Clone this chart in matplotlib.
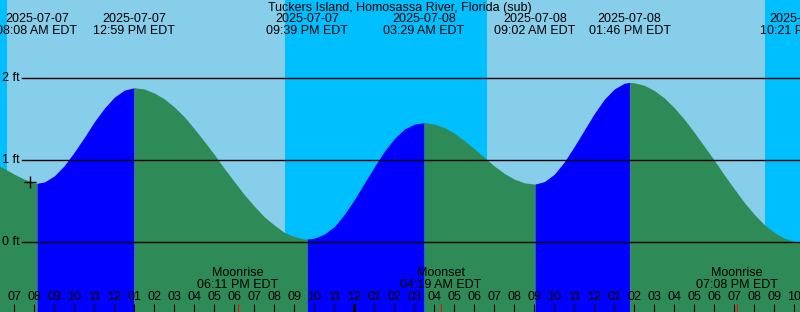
import matplotlib
matplotlib.use("Agg")
import matplotlib.pyplot as plt
import matplotlib.transforms as mtransforms
from datetime import datetime

# ---------------- data ----------------
title = "Tuckers Island, Homosassa River, Florida (sub)"

extreme_times = ["2025-07-07 08:08", "2025-07-07 12:59", "2025-07-07 21:39",
                 "2025-07-08 03:29", "2025-07-08 09:02", "2025-07-08 13:46",
                 "2025-07-08 22:21"]
extreme_levels = [0.72, 1.885, 0.04, 1.46, 0.71, 1.95, 0.0]
extreme_kinds = ["low", "high", "low", "high", "low", "high", "low"]

# levels read on the hour, starting 06:00 on 7/7
hourly_start = "2025-07-07 06:00"
hourly_levels = [0.96, 0.83, 0.725, 0.81, 1.10, 1.47, 1.77, 1.885, 1.82, 1.65,
                 1.385, 1.07, 0.74, 0.44, 0.21, 0.07, 0.05, 0.19, 0.52, 0.92,
                 1.265, 1.44, 1.44, 1.33, 1.14, 0.93, 0.77, 0.71, 0.83, 1.17,
                 1.57, 1.87, 1.945, 1.85, 1.64, 1.34, 1.00, 0.65, 0.34, 0.12,
                 0.01]

# levels read on the half hour, starting 06:30 on 7/7
halfhour_start = "2025-07-07 06:30"
halfhour_levels = [0.90, 0.77, 0.735, 0.935, 1.28, 1.635, 1.855, 1.87, 1.75, 1.53,
                   1.23, 0.90, 0.58, 0.31, 0.12, 0.04, 0.10, 0.34, 0.72, 1.11,
                   1.38, 1.46, 1.40, 1.24, 1.035, 0.84, 0.725, 0.74, 0.98, 1.37,
                   1.745, 1.94, 1.915, 1.76, 1.50, 1.17, 0.82, 0.485, 0.215, 0.05]

sunrise_times = ["2025-07-07 06:38", "2025-07-08 06:38"]
sunset_times = ["2025-07-07 20:32", "2025-07-08 20:32"]

moon_labels = ["Moonrise", "Moonset", "Moonrise"]
moon_times = ["2025-07-07 18:11", "2025-07-08 04:19", "2025-07-08 19:08"]

marker_time = "2025-07-07 07:47"
marker_level = 0.73

view_start = "2025-07-07 06:17"
view_hours = 40.0
level_min, level_max = -0.85, 2.955
grid_levels = [0, 1, 2]

# ---------------- helpers ----------------
T0 = datetime(2025, 7, 7)
def parse(s):
    return datetime.strptime(s, "%Y-%m-%d %H:%M")
def hrs(s):
    return (parse(s) - T0).total_seconds() / 3600.0

DAY = "#87CEEB"
NIGHT = "#00BFFF"
RISE = "#0000FF"
FALL = "#2E8B57"
FONT = "Liberation Sans"
FS = 9

ext_t = [hrs(s) for s in extreme_times]
h0 = hrs(hourly_start)
hour_t = [h0 + i for i in range(len(hourly_levels))]
hh0 = hrs(halfhour_start)
half_t = [hh0 + i for i in range(len(halfhour_levels))]

pts = sorted(list(zip(hour_t, hourly_levels)) + list(zip(half_t, halfhour_levels))
             + list(zip(ext_t, extreme_levels)))
curve_t = [p[0] for p in pts]
curve_l = [p[1] for p in pts]

x0 = hrs(view_start)
x1 = x0 + view_hours

fig = plt.figure(figsize=(8.0, 3.12), dpi=100)
ax = fig.add_axes([0, 0, 1, 1])
ax.set_xlim(x0, x1)
ax.set_ylim(level_min, level_max)
ax.axis("off")

# day / night background
ax.axvspan(x0, x1, color=DAY, lw=0, zorder=0)
rises = [hrs(s) for s in sunrise_times]
sets = [hrs(s) for s in sunset_times]
night_edges = [(x0 - 1, rises[0]), (sets[0], rises[1]), (sets[1], x1 + 1)]
for a, b in night_edges:
    ax.axvspan(a, b, color=NIGHT, lw=0, zorder=0.5)

# tide fill, split at extremes (blue while rising, green while falling)
bounds = [curve_t[0]] + ext_t + [curve_t[-1] + 1]
kinds_next = extreme_kinds + ["high"]
for i in range(len(bounds) - 1):
    a, b = bounds[i], bounds[i + 1]
    seg = [(t, l) for t, l in zip(curve_t, curve_l) if a <= t <= b]
    if len(seg) < 2:
        continue
    col = RISE if kinds_next[i] == "high" else FALL
    ax.fill_between([s[0] for s in seg], [s[1] for s in seg], level_min - 1,
                    color=col, lw=0, zorder=1)

# grid lines and labels
ytrans = mtransforms.blended_transform_factory(ax.transAxes, ax.transData)
for g in grid_levels:
    ax.axhline(g, xmin=22 / 800, xmax=1, color="black", lw=1.0, zorder=3)
    ax.text(2 / 800, g, f"{g} ft", transform=ytrans,
            ha="left", va="center", fontsize=FS, family=FONT, zorder=4)

# marker
ax.plot([hrs(marker_time)], [marker_level], marker="+", color="black",
        markersize=9, mew=1.0, zorder=4)

# title
ax.text(0.5, 1 - 7.5 / 312, title, transform=ax.transAxes, ha="center", va="center",
        fontsize=FS, family=FONT, zorder=5)

# extreme labels
trans = mtransforms.blended_transform_factory(ax.transData, ax.transAxes)
for s, t in zip(extreme_times, ext_t):
    d = parse(s)
    ax.text(t, 1 - 19.5 / 312, d.strftime("%Y-%m-%d"), transform=trans, ha="center",
            va="center", fontsize=FS, family=FONT, zorder=5)
    ax.text(t, 1 - 31.5 / 312, d.strftime("%I:%M %p") + " EDT", transform=trans,
            ha="center", va="center", fontsize=FS, family=FONT, zorder=5)

# hour ticks and labels
for h in range(int(x0) + 1, int(x1) + 1):
    lw = 2.2 if h % 24 == 0 else 0.75
    ax.vlines(h, 0, 8 / 312, transform=trans, color="black", lw=lw, zorder=4)
    hh = (h % 24) % 12
    hh = 12 if hh == 0 else hh
    ax.text(h, 14.5 / 312, f"{hh:02d}", transform=trans, ha="center", va="center",
            fontsize=FS, family=FONT, zorder=5)

# moon events
for lab, s in zip(moon_labels, moon_times):
    t = hrs(s)
    d = parse(s)
    ax.vlines(t, 0, 8 / 312, transform=trans, color="red", lw=0.75, zorder=4)
    ax.text(t, 38.5 / 312, lab, transform=trans, ha="center", va="center",
            fontsize=FS, family=FONT, zorder=5)
    ax.text(t, 26.5 / 312, d.strftime("%I:%M %p") + " EDT", transform=trans,
            ha="center", va="center", fontsize=FS, family=FONT, zorder=5)

fig.savefig("out.png", dpi=100)
